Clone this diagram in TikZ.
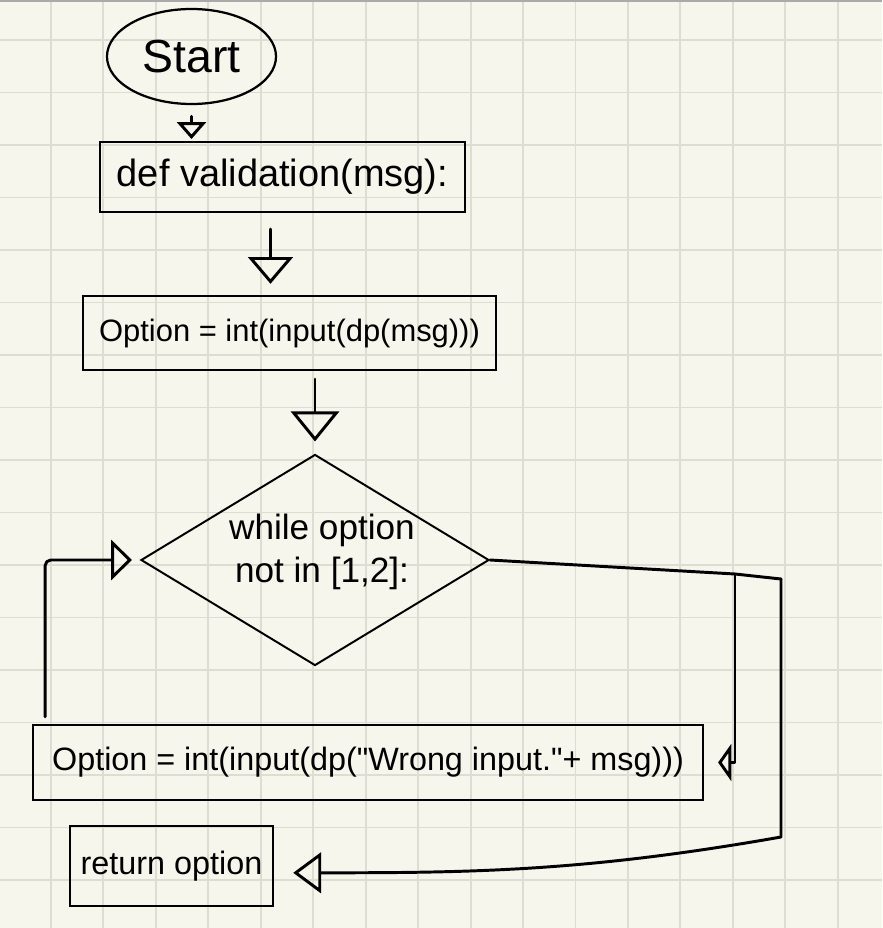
\documentclass[tikz,border=0pt]{standalone}
\usepackage{fontspec}
\setmainfont{Liberation Sans}
\usetikzlibrary{arrows.meta,shapes.geometric}
\definecolor{paper}{RGB}{246,246,236}
\definecolor{gridgray}{RGB}{222,221,210}
\definecolor{edgegray}{RGB}{170,170,170}

\tikzset{
  box/.style={draw, line width=1.4pt, inner sep=0pt},
  wire/.style={line width=2.1pt, line cap=round, line join=round},
  flow/.style 2 args={wire, -{Triangle[open, length=#1, width=#2]}},
}

\begin{document}
\begin{tikzpicture}[x=0.025cm,y=-0.025cm]
% Paper and grid
\fill[paper] (0,0) rectangle (882,928);
\useasboundingbox (0,0) rectangle (882,928);
\foreach \gx in {0,...,15}
  \draw[gridgray, line width=1.4pt] ({51+52.45*\gx},0) -- ({51+52.45*\gx},928);
\foreach \gy in {0,...,16}
  \draw[gridgray, line width=1.4pt] (0,{40+52.5*\gy}) -- (882,{40+52.5*\gy});
\draw[edgegray, line width=1pt] (0,1) -- (882,1);

% Blocks
\node[draw, ellipse, line width=1.6pt, inner sep=0pt, minimum width=4.225cm, minimum height=2.375cm,
  font=\fontsize{33}{36}\selectfont] (start) at (191.5,56.5) {Start};
\node[box, minimum width=9.125cm, minimum height=1.75cm, font=\fontsize{27}{30}\selectfont]
  (def) at (282.5,177) {def validation(msg):};
\node[box, minimum width=10.325cm, minimum height=1.85cm, font=\fontsize{22}{24}\selectfont]
  (opt) at (289.5,333) {Option = int(input(dp(msg)))};
\node[draw, diamond, line width=1.4pt, inner sep=0pt, minimum width=8.7cm, minimum height=5.275cm]
  (cond) at (315,560) {};
\node[align=center, font=\fontsize{25}{31}\selectfont] (condtxt) at (322,552) {while option\\not in [1,2]:};
\node[box, minimum width=16.75cm, minimum height=1.875cm, font=\fontsize{23}{25}\selectfont]
  (wrong) at (368,762.5) {Option = int(input(dp(\textquotedbl Wrong input.\textquotedbl+ msg)))};
\node[box, minimum width=5.075cm, minimum height=2cm, font=\fontsize{23}{25}\selectfont]
  (ret) at (171.5,866) {return option};

% Main flow
\draw[flow={0.42cm}{0.72cm}, shorten <=0.28cm, shorten >=0.05cm] (start.south) -- (start.south |- def.north);
\draw[flow={0.67cm}{1.12cm}, shorten <=0.4cm, shorten >=0.28cm]
  ([xshift=-0.3cm]def.south) -- ([xshift=-0.3cm]def.south |- opt.north);
\draw[flow={0.75cm}{1.2cm}, shorten <=0.2cm, shorten >=0.3cm] (opt.south -| cond.north) -- (cond.north);

% Loop back into the test
\coordinate (loopfoot) at ([xshift=0.33cm,yshift=0.18cm]wrong.north west);
\draw[flow={0.52cm}{1cm}, shorten >=0.2cm, rounded corners=4pt] (loopfoot) |- (cond.west);

% Branches out of the test
\coordinate (split) at (735,574);
\coordinate (outer) at (781,579);
\coordinate (retcorner) at (781,837);
\draw[wire] (cond.east) -- (split) -- (outer);
\draw[flow={0.33cm}{0.92cm}, shorten >=0.35cm] (split) |- (wrong.east);
\draw[flow={0.7cm}{1.02cm}, shorten >=0.48cm]
  (outer) -- (retcorner) to[out=190,in=0] ([yshift=-0.17cm]ret.east);
\end{tikzpicture}
\end{document}
